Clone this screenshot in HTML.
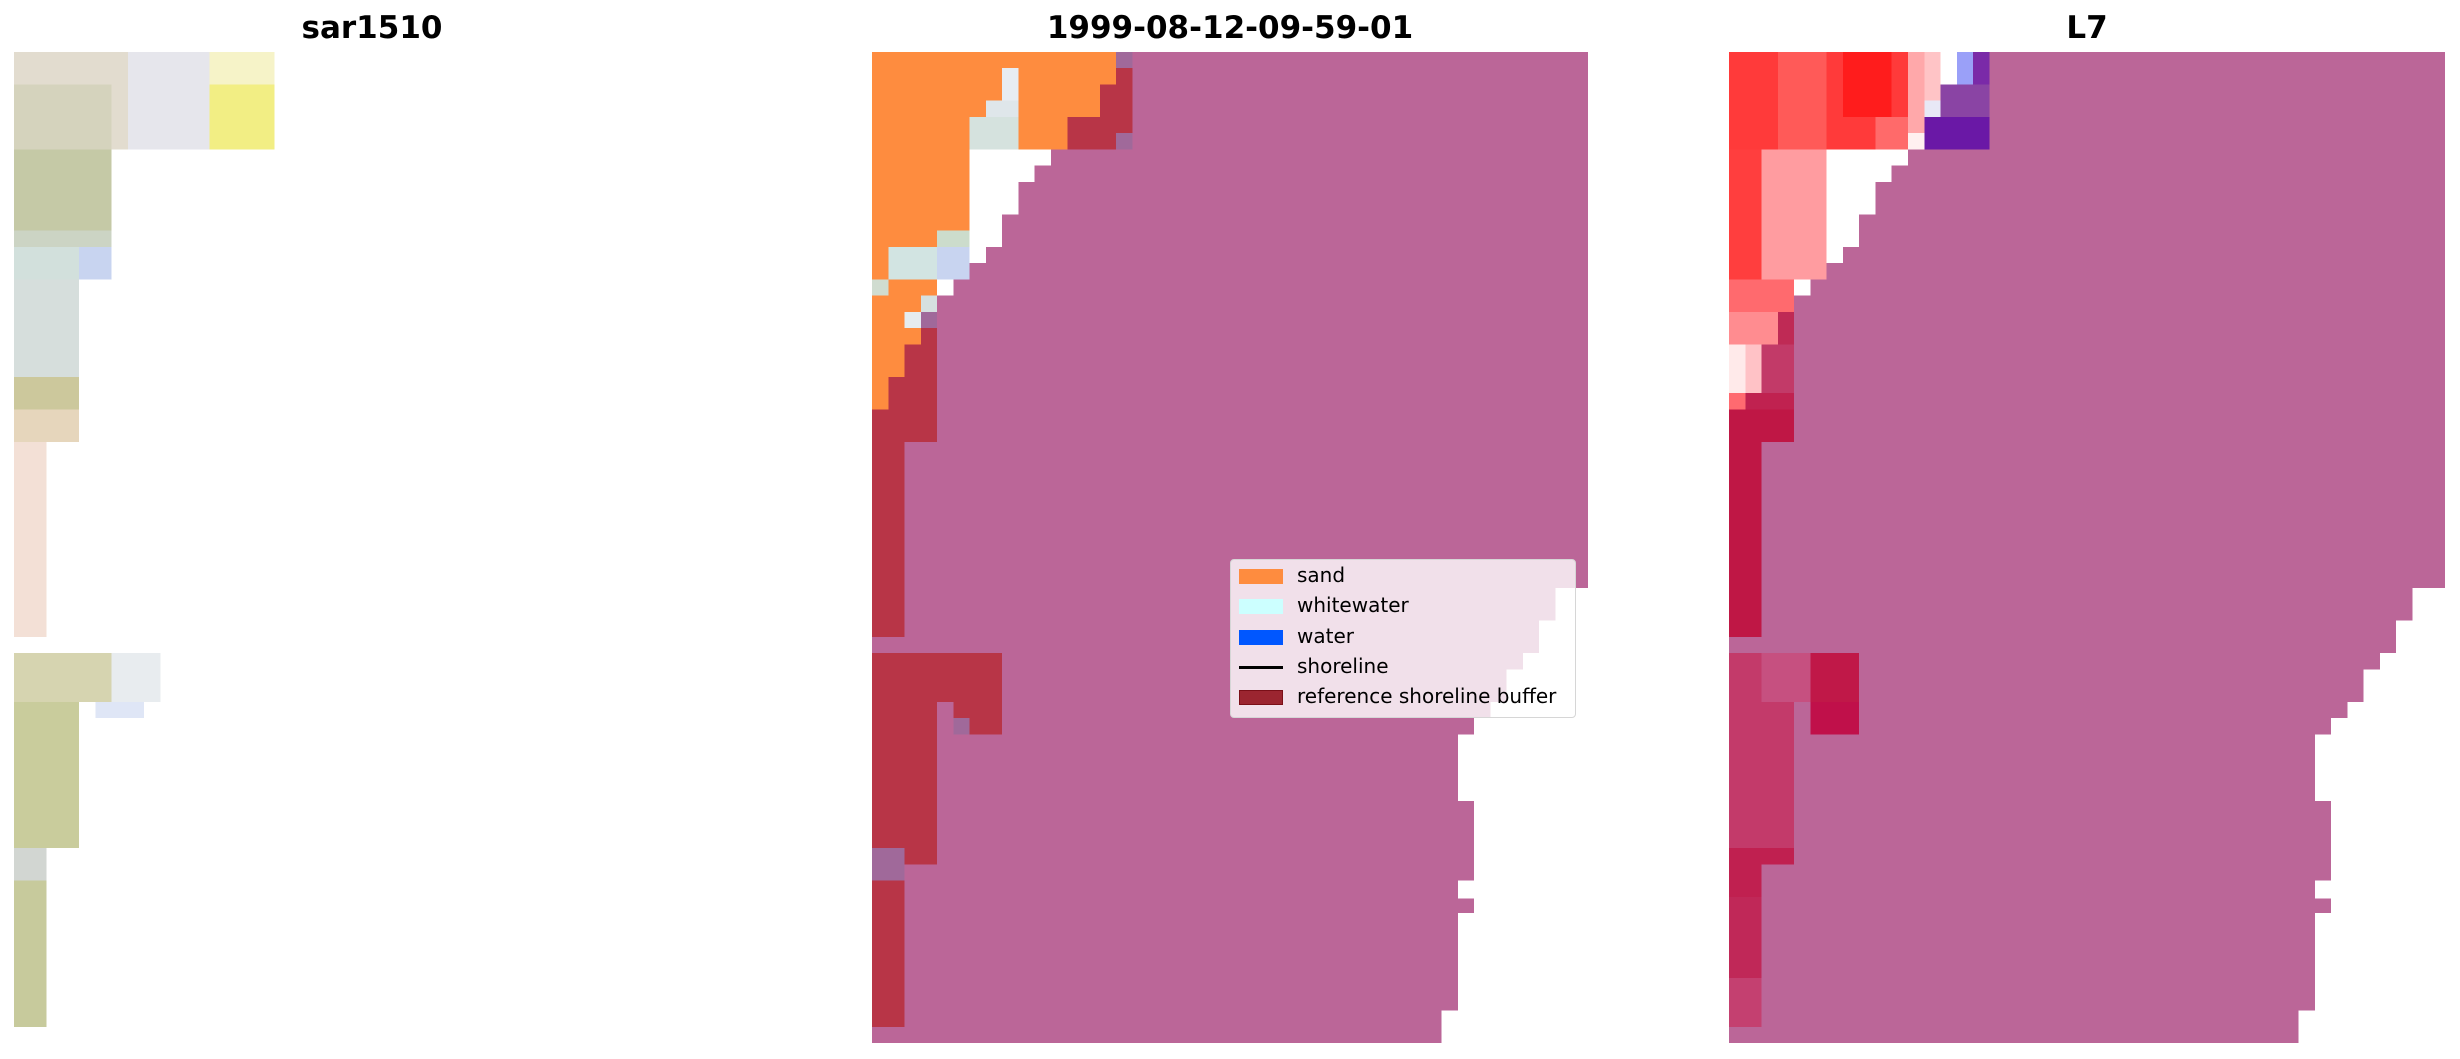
<!DOCTYPE html>
<html><head><meta charset="utf-8"><style>
html,body{margin:0;padding:0;background:#fff;}
#wrap{position:relative;width:2460px;height:1059px;overflow:hidden;font-family:"DejaVu Sans","Liberation Sans",sans-serif;}
.t{position:absolute;top:10px;font-weight:bold;font-size:31px;text-align:center;width:716px;}
#leg{position:absolute;left:1230px;top:559px;width:344px;height:157px;background:rgba(255,255,255,0.8);border:1.5px solid #d6d6d6;border-radius:4px;font-size:20px;}
.e{position:absolute;left:66px;}
.p{position:absolute;left:8px;width:44px;height:15px;}
</style></head><body><div id="wrap">
<svg width="2460" height="1059" style="position:absolute;left:0;top:0" shape-rendering="crispEdges">
<defs>
<g id="wmask">
<rect x="6" y="6" width="5" height="1"/><rect x="6" y="7" width="4" height="1"/><rect x="6" y="8" width="3" height="2"/><rect x="6" y="10" width="2" height="2"/><rect x="6" y="12" width="1" height="1"/><rect x="4" y="14" width="1" height="1"/>
<rect x="42" y="33" width="3" height="2.1"/><rect x="41" y="35" width="4" height="2.1"/><rect x="40" y="37" width="5" height="1.1"/><rect x="39" y="38" width="6" height="2.1"/><rect x="38" y="40" width="7" height="1.1"/><rect x="37" y="41" width="8" height="1.1"/><rect x="36" y="42" width="9" height="4.1"/><rect x="37" y="46" width="8" height="5.1"/><rect x="36" y="51" width="9" height="1.1"/><rect x="37" y="52" width="8" height="1.1"/><rect x="36" y="53" width="9" height="6.1"/><rect x="35" y="59" width="10" height="2.5"/>
</g>
</defs>
<!-- left panel -->
<g transform="translate(14,52) scale(16.273,16.246)">
<rect x="0" y="0" width="16" height="6" fill="#e2dccf"/>
<rect x="7" y="0" width="5" height="6" fill="#e6e6ec"/>
<rect x="12" y="0" width="4" height="2" fill="#f6f3c8"/>
<rect x="12" y="2" width="4" height="4" fill="#f2ee84"/>
<rect x="0" y="2" width="6" height="4" fill="#d5d3bd"/>
<rect x="0" y="6" width="6" height="5" fill="#c5c9a6"/>
<rect x="0" y="11" width="6" height="1" fill="#ccd4c4"/>
<rect x="0" y="12" width="4" height="2" fill="#d2e0dc"/>
<rect x="4" y="12" width="2" height="2" fill="#c8d4f0"/>
<rect x="0" y="14" width="4" height="6" fill="#d6dedc"/>
<rect x="0" y="20" width="4" height="2" fill="#ccc89c"/>
<rect x="0" y="22" width="4" height="2" fill="#e6d6bc"/>
<rect x="0" y="24" width="2" height="12" fill="#f3e0d6"/>
<rect x="0" y="37" width="6" height="3" fill="#d6d4b0"/>
<rect x="6" y="37" width="3" height="3" fill="#e8ecef"/>
<rect x="5" y="40" width="3" height="1" fill="#dfe6f6"/>
<rect x="0" y="40" width="4" height="9" fill="#c9cc9c"/>
<rect x="0" y="49" width="2" height="2" fill="#d2d6d2"/>
<rect x="0" y="51" width="2" height="9" fill="#c7ca9c"/>
</g>
<!-- middle panel -->
<g transform="translate(872,52) scale(16.273,16.246)">
<rect x="0" y="0" width="44" height="61" fill="#bb6698"/>
<g fill="#fe8c3f"><rect x="0" y="0" width="15" height="6"/><rect x="0" y="6" width="6" height="5"/><rect x="0" y="11" width="4" height="1"/><rect x="0" y="12" width="1" height="2"/><rect x="1" y="14" width="3" height="1"/><rect x="0" y="15" width="3" height="1"/><rect x="0" y="16" width="2" height="1"/><rect x="0" y="17" width="3" height="1"/><rect x="0" y="18" width="2" height="2"/><rect x="0" y="20" width="1" height="2"/></g>
<rect x="8" y="1" width="1" height="2" fill="#e8ecf2"/><rect x="7" y="3" width="2" height="1" fill="#dfe6ea"/><rect x="6" y="4" width="3" height="2" fill="#d5e2de"/><rect x="4" y="11" width="2" height="1" fill="#ccdccc"/><rect x="1" y="12" width="5" height="2" fill="#d2e4e2"/><rect x="4" y="12" width="2" height="2" fill="#c8d4f0"/><rect x="0" y="14" width="1" height="1" fill="#d0dcd0"/><rect x="3" y="15" width="1" height="1" fill="#d6e0e0"/><rect x="2" y="16" width="1" height="1" fill="#e6ecf0"/>
<g fill="#b83547"><rect x="15" y="1" width="1" height="4"/><rect x="14" y="2" width="1" height="4"/><rect x="12" y="4" width="2" height="2"/><rect x="3" y="17" width="1" height="1"/><rect x="2" y="18" width="2" height="2"/><rect x="1" y="20" width="3" height="2"/><rect x="0" y="22" width="4" height="2"/><rect x="0" y="24" width="2" height="12"/><rect x="0" y="37" width="8" height="3"/><rect x="0" y="40" width="4" height="9"/><rect x="5" y="40" width="3" height="1"/><rect x="6" y="41" width="2" height="1"/><rect x="2" y="49" width="2" height="1"/><rect x="0" y="51" width="2" height="9"/></g>
<g fill="#a0699a"><rect x="15" y="0" width="1" height="1"/><rect x="15" y="5" width="1" height="1"/><rect x="3" y="16" width="1" height="1"/><rect x="5" y="41" width="1" height="1"/><rect x="0" y="49" width="2" height="2"/></g>
<use href="#wmask" fill="#fff"/>
</g>
<!-- right panel -->
<g transform="translate(1729,52) scale(16.273,16.246)">
<rect x="0" y="0" width="44" height="61" fill="#bb6698"/>
<rect x="0" y="0" width="11" height="6" fill="#ff3a3a"/>
<rect x="3" y="0" width="3" height="6" fill="#ff5a58"/>
<rect x="7" y="0" width="3" height="4" fill="#ff1c1c"/>
<rect x="9" y="4" width="2" height="2" fill="#ff6a6a"/>
<rect x="11" y="0" width="1" height="5" fill="#ffa8aa"/><rect x="11" y="5" width="1" height="1" fill="#fff0f0"/>
<rect x="12" y="0" width="1" height="3" fill="#ffc4c6"/><rect x="12" y="3" width="1" height="3" fill="#e8e8f6"/>
<rect x="13" y="0" width="1" height="4" fill="#ffffff"/>
<rect x="14" y="0" width="1" height="2" fill="#9aa0f8"/><rect x="15" y="0" width="1" height="2" fill="#7a2aa8"/>
<rect x="13" y="2" width="3" height="2" fill="#8a44a4"/><rect x="12" y="4" width="4" height="2" fill="#6a18a6"/>
<rect x="0" y="6" width="2" height="8" fill="#ff3e3e"/><rect x="2" y="6" width="4" height="8" fill="#ff9ca0"/>
<rect x="0" y="14" width="4" height="2" fill="#ff6a6e"/>
<rect x="0" y="16" width="3" height="2" fill="#ff8c90"/><rect x="3" y="16" width="1" height="2" fill="#bf2a55"/>
<rect x="0" y="18" width="1" height="3" fill="#ffeaea"/><rect x="1" y="18" width="1" height="3" fill="#ffc2c6"/><rect x="2" y="18" width="2" height="3" fill="#c23a68"/>
<rect x="0" y="21" width="1" height="1" fill="#ff6a70"/><rect x="1" y="21" width="3" height="1" fill="#c02250"/>
<rect x="0" y="22" width="4" height="2" fill="#bf1745"/><rect x="0" y="24" width="2" height="12" fill="#bf1745"/>
<rect x="0" y="37" width="8" height="3" fill="#c33a6a"/><rect x="2" y="37" width="3" height="3" fill="#c65080"/><rect x="5" y="37" width="3" height="3" fill="#c01848"/>
<rect x="0" y="40" width="4" height="9" fill="#c33a6a"/><rect x="5" y="40" width="3" height="2" fill="#c0104a"/>
<rect x="0" y="49" width="4" height="1" fill="#c02050"/><rect x="0" y="50" width="2" height="2" fill="#c02050"/>
<rect x="0" y="52" width="2" height="8" fill="#c02858"/><rect x="0" y="57" width="2" height="3" fill="#c44070"/>
<use href="#wmask" fill="#fff"/>
<rect x="2" y="11" width="4" height="2" fill="#ff9ca0"/>
</g>
</svg>
<div class="t" style="left:14px">sar1510</div>
<div class="t" style="left:872px">1999-08-12-09-59-01</div>
<div class="t" style="left:1729px">L7</div>
<div id="leg">
<div class="p" style="top:9px;background:#fe8c3f"></div><div class="e" style="top:3px">sand</div>
<div class="p" style="top:39px;background:#ccffff"></div><div class="e" style="top:33px">whitewater</div>
<div class="p" style="top:70px;background:#0057ff"></div><div class="e" style="top:64px">water</div>
<div class="p" style="top:106px;height:3px;background:#000"></div><div class="e" style="top:94px">shoreline</div>
<div class="p" style="top:130px;height:13px;background:#9b2530;border:1px solid #7a0f18;width:42px"></div><div class="e" style="top:124px">reference shoreline buffer</div>
</div>
</div></body></html>
